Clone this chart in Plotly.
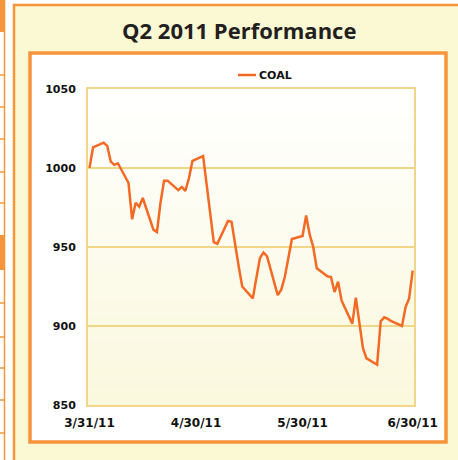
import plotly.graph_objects as go

# ---------------- data ----------------
dates = [
    "2011-03-31", "2011-04-01",
    "2011-04-04", "2011-04-05", "2011-04-06", "2011-04-07", "2011-04-08",
    "2011-04-11", "2011-04-12", "2011-04-13", "2011-04-14", "2011-04-15",
    "2011-04-18", "2011-04-19", "2011-04-20", "2011-04-21", "2011-04-22",
    "2011-04-25", "2011-04-26", "2011-04-27", "2011-04-28", "2011-04-29",
    "2011-05-02", "2011-05-03", "2011-05-04", "2011-05-05", "2011-05-06",
    "2011-05-09", "2011-05-10", "2011-05-11", "2011-05-12", "2011-05-13",
    "2011-05-16", "2011-05-17", "2011-05-18", "2011-05-19", "2011-05-20",
    "2011-05-23", "2011-05-24", "2011-05-25", "2011-05-26", "2011-05-27",
    "2011-05-30", "2011-05-31", "2011-06-01", "2011-06-02", "2011-06-03",
    "2011-06-06", "2011-06-07", "2011-06-08", "2011-06-09", "2011-06-10",
    "2011-06-13", "2011-06-14", "2011-06-15", "2011-06-16", "2011-06-17",
    "2011-06-20", "2011-06-21", "2011-06-22", "2011-06-23", "2011-06-24",
    "2011-06-27", "2011-06-28", "2011-06-29", "2011-06-30",
]
coal = [
    1000, 1013,
    1016, 1014, 1004, 1002, 1003,
    990.5, 967.5, 978, 975.5, 981,
    961, 959.5, 978, 992, 992,
    986, 988, 985.5, 993.5, 1004.5,
    1007.5, 990, 971, 953, 952,
    966.5, 966, 951, 938, 925,
    917.5, 930.5, 943, 946.5, 944,
    919.5, 923, 931, 943, 955,
    957, 970, 958, 950, 936.5,
    931.5, 931, 921.5, 928, 916,
    901.5, 918, 902, 886, 879.5,
    875.5, 903, 905.5, 904.5, 903,
    900, 912, 917.5, 935,
]
series_name = "COAL"
title_text = "Q2 2011 Performance"
x_tick_vals = ["2011-03-31", "2011-04-30", "2011-05-30", "2011-06-30"]
x_tick_text = ["3/31/11", "4/30/11", "5/30/11", "6/30/11"]
y_ticks = [850, 900, 950, 1000, 1050]

# ---------------- geometry helpers ----------------
W, H = 458, 460
L, R, T, B = 88, 414, 89, 405  # plot area in pixels


def px(X):
    return (X - L) / (R - L)


def py(Y):
    return (B - Y) / (B - T)


ORANGE = "#F7953B"
LINE = "#F26A24"
GOLD = "#F1D68A"
CREAM = "#FBF8D4"

shapes = []
# left page strip
shapes.append(dict(type="rect", xref="paper", yref="paper", x0=px(-2), x1=px(4.5),
                   y0=py(-5), y1=py(470), fillcolor="white",
                   line=dict(color=ORANGE, width=1.5), layer="below"))
for (a, b) in [(-5, 32), (235, 270)]:
    shapes.append(dict(type="rect", xref="paper", yref="paper", x0=px(-2), x1=px(5),
                       y0=py(b), y1=py(a), fillcolor=ORANGE, line=dict(width=0), layer="below"))
for yy in [75, 107, 139, 172, 203, 303, 337, 368, 400, 433]:
    shapes.append(dict(type="line", xref="paper", yref="paper", x0=px(-2), x1=px(5),
                       y0=py(yy), y1=py(yy), line=dict(color=ORANGE, width=1.5), layer="below"))
# outer cream box
shapes.append(dict(type="rect", xref="paper", yref="paper", x0=px(14), x1=px(475),
                   y0=py(475), y1=py(5), fillcolor=CREAM,
                   line=dict(color=ORANGE, width=2.5), layer="below"))
# inner white box
shapes.append(dict(type="rect", xref="paper", yref="paper", x0=px(30), x1=px(446),
                   y0=py(442), y1=py(53), fillcolor="white",
                   line=dict(color=ORANGE, width=3.5), layer="below"))
# plot-area gradient (white at top to cream at bottom)
N = 24
c_top = (255, 255, 255)
c_bot = (250, 248, 220)
for i in range(N):
    t = (i + 0.5) / N
    c = tuple(round(c_bot[k] + (c_top[k] - c_bot[k]) * t) for k in range(3))
    shapes.append(dict(type="rect", xref="paper", yref="paper", x0=0, x1=1,
                       y0=i / N, y1=(i + 1) / N, fillcolor="rgb(%d,%d,%d)" % c,
                       line=dict(width=0), layer="below"))
# manual legend sample
shapes.append(dict(type="line", xref="paper", yref="paper", x0=px(238), x1=px(256),
                   y0=py(75), y1=py(75), line=dict(color=LINE, width=2.5)))

fig = go.Figure()
fig.add_trace(go.Scatter(x=dates, y=coal, mode="lines", name=series_name,
                         line=dict(color=LINE, width=2.5), showlegend=False))

tick_font = dict(family="DejaVu Sans", size=11, color="#111111", weight="bold")
xtick_font = dict(family="DejaVu Sans", size=12, color="#111111", weight="bold")

fig.update_layout(
    width=W, height=H,
    margin=dict(l=L, r=W - R, t=T, b=H - B, pad=0),
    paper_bgcolor="white",
    plot_bgcolor="rgba(0,0,0,0)",
    shapes=shapes,
    annotations=[
        dict(text=title_text, xref="paper", yref="paper", x=px(239), y=py(30),
             xanchor="center", yanchor="middle", showarrow=False,
             font=dict(family="Open Sans", size=22, color="#231F20", weight="bold")),
        dict(text=series_name, xref="paper", yref="paper", x=px(257), y=py(75),
             xanchor="left", yanchor="middle", showarrow=False,
             font=tick_font),
    ],
    xaxis=dict(
        type="date",
        range=["2011-03-30 14:00", "2011-06-30 09:00"],
        tickvals=x_tick_vals, ticktext=x_tick_text,
        showgrid=False, zeroline=False,
        showline=True, mirror=True, linecolor=GOLD, linewidth=2,
        ticks="", tickfont=xtick_font, ticklabelstandoff=6,
    ),
    yaxis=dict(
        range=[850, 1050], tickvals=y_ticks,
        showgrid=True, gridcolor=GOLD, gridwidth=1.5, zeroline=False,
        showline=True, mirror=True, linecolor=GOLD, linewidth=2,
        ticks="", tickfont=tick_font, ticklabelstandoff=8,
    ),
)

fig.write_html(
    "out.html",
    config={"displayModeBar": False},
    post_script="document.body.style.margin='0';document.body.style.overflow='hidden';",
)
